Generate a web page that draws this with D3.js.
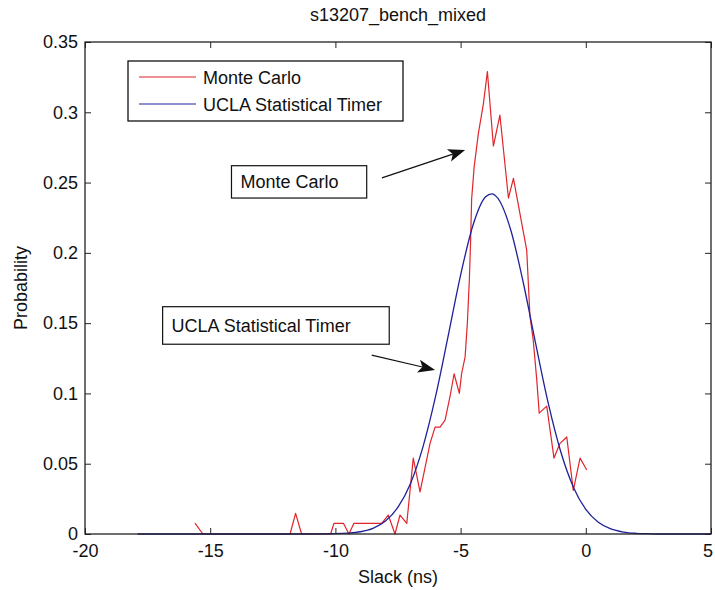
<!DOCTYPE html>
<html><head><meta charset="utf-8">
<script src="https://cdn.jsdelivr.net/npm/d3@7"></script>
<style>
body{margin:0;background:#fff}
svg{display:block}
text{font-family:"Liberation Sans",Arial,Helvetica,sans-serif;fill:#111}
</style>
</head><body><svg id="c" width="715" height="590"></svg>
<script>
const title = "s13207_bench_mixed";
const xLabel = "Slack (ns)";
const yLabel = "Probability";
const seriesNames = ["Monte Carlo", "UCLA Statistical Timer"];
const seriesColors = ["#e0252b", "#1f2199"];
const xTicks = [-20, -15, -10, -5, 0, 5];
const xTickLabels = ["-20", "-15", "-10", "-5", "0", "5"];
const yTicks = [0, 0.05, 0.1, 0.15, 0.2, 0.25, 0.3, 0.35];
const yTickLabels = ["0", "0.05", "0.1", "0.15", "0.2", "0.25", "0.3", "0.35"];

// Monte Carlo histogram polyline
const mcX = [-15.61,-15.29,-11.81,-11.59,-11.35,-10.19,-10.06,-9.68,-9.46,-9.26,-8.15,-7.89,-7.62,-7.42,-7.15,-6.89,-6.62,-6.22,-6.02,-5.82,-5.62,-5.42,-5.26,-5.05,-4.96,-4.82,-4.73,-4.65,-4.60,-4.56,-4.46,-4.29,-4.09,-3.93,-3.69,-3.43,-3.09,-2.89,-2.36,-2.23,-2.10,-1.96,-1.86,-1.56,-1.27,-1.03,-0.76,-0.50,-0.23,0.04];
const mcY = [0.0078,0,0,0.0147,0,0,0.0076,0.0076,0,0.0076,0.0076,0.0135,0,0.0135,0.0076,0.054,0.030,0.0645,0.076,0.076,0.081,0.098,0.114,0.100,0.114,0.126,0.150,0.181,0.209,0.238,0.261,0.285,0.306,0.329,0.276,0.298,0.239,0.253,0.202,0.155,0.138,0.110,0.086,0.091,0.054,0.0645,0.069,0.031,0.054,0.0455];

// UCLA Statistical Timer curve
const uclaX = [-17.9,-12,-10.5,-10,-9.5,-9,-8.5,-8,-7.5,-7,-6.5,-6,-5.5,-5,-4.5,-4,-3.75,-3.5,-3,-2.5,-2,-1.5,-1,-0.5,0,0.5,1,1.5,2,2.5,3,5];
const uclaY = [0,0,0.0001,0.0002,0.0006,0.0016,0.0040,0.0092,0.0191,0.0360,0.0622,0.0979,0.1406,0.1842,0.2200,0.2399,0.2420,0.2385,0.2164,0.1791,0.1352,0.0931,0.0585,0.0335,0.0175,0.0084,0.0036,0.0014,0.0005,0.0002,0,0];

// Annotations (data coordinates)
const annText = ["Monte Carlo", "UCLA Statistical Timer"];
const annBoxX0 = [-14.15, -16.9];
const annBoxX1 = [-8.75, -7.85];
const annBoxYTop = [0.262, 0.1617];
const annBoxYBot = [0.239, 0.135];
const annArrowFrom = [[-8.14, 0.2533], [-8.55, 0.1273]];
const annArrowTo = [[-4.82, 0.2732], [-6.02, 0.1167]];

const W = 715, H = 590;
const m = {left: 85, right: 4, top: 42, bottom: 56};
const svg = d3.select("#c");
svg.append("rect").attr("width", W).attr("height", H).attr("fill", "#fff");

const x = d3.scaleLinear().domain([-20, 5]).range([m.left, W - m.right]);
const y = d3.scaleLinear().domain([0, 0.35]).range([H - m.bottom, m.top]);
const FS = 18;

// axes
const gB = svg.append("g").attr("transform", `translate(0,${y(0)})`)
  .call(d3.axisBottom(x).tickValues(xTicks).tickFormat((d, i) => xTickLabels[i]).tickSizeInner(-6).tickSizeOuter(0).tickPadding(10));
const gT = svg.append("g").attr("transform", `translate(0,${y(0.35)})`)
  .call(d3.axisTop(x).tickValues(xTicks).tickFormat("").tickSizeInner(-6).tickSizeOuter(0));
const gL = svg.append("g").attr("transform", `translate(${x(-20)},0)`)
  .call(d3.axisLeft(y).tickValues(yTicks).tickFormat((d, i) => yTickLabels[i]).tickSizeInner(-6).tickSizeOuter(0).tickPadding(7));
const gR = svg.append("g").attr("transform", `translate(${x(5)},0)`)
  .call(d3.axisRight(y).tickValues(yTicks).tickFormat("").tickSizeInner(-6).tickSizeOuter(0));
[gB, gT, gL, gR].forEach(g => {
  g.select(".domain").remove();
  g.selectAll(".tick line").attr("stroke", "#222").attr("stroke-width", 1);
  g.selectAll("text").attr("font-size", FS).attr("font-family", null).attr("fill", "#111");
});
// keep the last x tick label inside the picture
gB.selectAll(".tick text").filter((d, i) => i === xTicks.length - 1)
  .attr("text-anchor", "end").attr("dx", 1.5);

// series
const line = d3.line().x(d => x(d[0])).y(d => y(d[1]));
svg.append("path").datum(mcX.map((v, i) => [v, mcY[i]]))
  .attr("fill", "none").attr("stroke", seriesColors[0]).attr("stroke-width", 1.2)
  .attr("stroke-linejoin", "round").attr("d", line);
svg.append("path").datum(uclaX.map((v, i) => [v, uclaY[i]]))
  .attr("fill", "none").attr("stroke", seriesColors[1]).attr("stroke-width", 1.3)
  .attr("d", line.curve(d3.curveMonotoneX));

// box
svg.append("rect").attr("x", x(-20)).attr("y", y(0.35))
  .attr("width", x(5) - x(-20)).attr("height", y(0) - y(0.35))
  .attr("fill", "none").attr("stroke", "#222").attr("stroke-width", 1.3);

// title & labels
svg.append("text").attr("x", (x(-20) + x(5)) / 2).attr("y", 21).attr("text-anchor", "middle")
  .attr("font-size", FS).text(title);
svg.append("text").attr("x", (x(-20) + x(5)) / 2).attr("y", 583).attr("text-anchor", "middle")
  .attr("font-size", FS).text(xLabel);
svg.append("text").attr("transform", `translate(27,${(y(0) + y(0.35)) / 2}) rotate(-90)`)
  .attr("text-anchor", "middle").attr("font-size", FS).text(yLabel);

// legend
const lg = svg.append("g").attr("transform", `translate(${x(-20) + 43},${y(0.35) + 19})`);
lg.append("rect").attr("width", 275).attr("height", 60).attr("fill", "#fff")
  .attr("stroke", "#111").attr("stroke-width", 1.3);
seriesNames.forEach((n, i) => {
  const yy = 16 + i * 27;
  lg.append("line").attr("x1", 11).attr("x2", 68).attr("y1", yy).attr("y2", yy)
    .attr("stroke", seriesColors[i]).attr("stroke-width", 1.2);
  lg.append("text").attr("x", 75).attr("y", yy + 6.5).attr("font-size", FS).text(n);
});

// annotations
annText.forEach((t, i) => {
  const bx0 = x(annBoxX0[i]), bx1 = x(annBoxX1[i]), by0 = y(annBoxYTop[i]), by1 = y(annBoxYBot[i]);
  svg.append("rect").attr("x", bx0).attr("y", by0).attr("width", bx1 - bx0).attr("height", by1 - by0)
    .attr("fill", "none").attr("stroke", "#111").attr("stroke-width", 1.2);
  svg.append("text").attr("x", bx0 + 9).attr("y", (by0 + by1) / 2 + 6.5).attr("font-size", FS).text(t);
  const x1 = x(annArrowFrom[i][0]), y1 = y(annArrowFrom[i][1]);
  const x2 = x(annArrowTo[i][0]), y2 = y(annArrowTo[i][1]);
  const ang = Math.atan2(y2 - y1, x2 - x1);
  const L = 17, Wd = 6.5, notch = 4;
  const ux = Math.cos(ang), uy = Math.sin(ang), px = -uy, py = ux;
  const bxp = x2 - ux * L, byp = y2 - uy * L;
  svg.append("line").attr("x1", x1).attr("y1", y1).attr("x2", x2 - ux * (L - notch)).attr("y2", y2 - uy * (L - notch))
    .attr("stroke", "#111").attr("stroke-width", 1.2);
  svg.append("path").attr("d", `M${x2},${y2}L${bxp + px * Wd},${byp + py * Wd}L${x2 - ux * (L - notch)},${y2 - uy * (L - notch)}L${bxp - px * Wd},${byp - py * Wd}Z`)
    .attr("fill", "#111");
});
</script>
</body></html>
